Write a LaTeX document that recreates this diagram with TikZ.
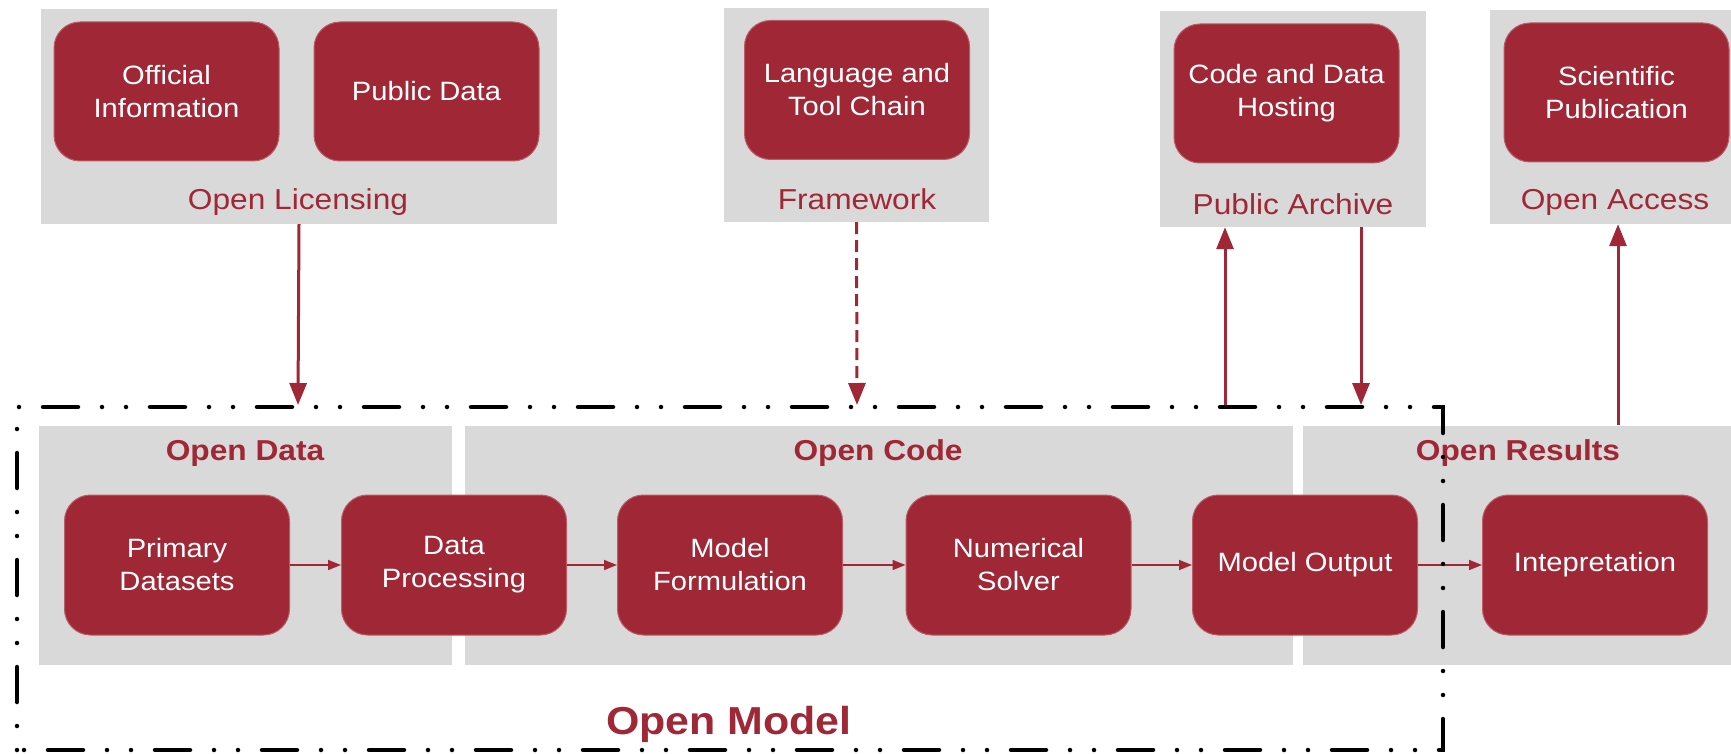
\documentclass[tikz,border=0pt]{standalone}
\usepackage{fontspec}
\setmainfont[FakeStretch=1.1]{Liberation Sans}
\usetikzlibrary{arrows.meta}
\definecolor{bred}{RGB}{160,39,53}
\definecolor{pgrey}{RGB}{217,217,217}
\tikzset{
  greybox/.style={fill=pgrey, draw=none, inner sep=0pt},
  rednode/.style={fill=bred, draw=bred!75!white, line width=1pt, rounded corners=26pt,
    minimum width=225pt, minimum height=139pt, inner sep=0pt, align=center,
    text=white, font=\fontsize{26.5}{33}\selectfont},
  lab/.style={text=bred, font=\fontsize{28.8}{36}\selectfont, inner sep=0pt},
  blab/.style={text=bred, font=\fontsize{28.8}{36}\selectfont\bfseries, inner sep=0pt},
  bigarr/.style={draw=bred, line width=3pt, -{Triangle[width=17pt,length=22pt]}},
  smallarr/.style={draw=bred, line width=1.5pt, -{Triangle[width=10pt,length=13pt]}},
  border/.style={draw=black, line width=4.5pt, line cap=round,
    dash pattern=on 0pt off 24pt on 0pt off 24pt on 35pt off 24pt}
}
\begin{document}
\begin{tikzpicture}[x=1pt, y=-1pt]
\useasboundingbox (0,0) rectangle (1731,754);

% top row: grey panels
\node[greybox, minimum width=516pt, minimum height=215pt] (licbox) at (299,116.5) {};
\node[greybox, minimum width=265pt, minimum height=214pt] (frbox) at (856.5,115) {};
\node[greybox, minimum width=266pt, minimum height=216pt] (arbox) at (1293,119) {};
\node[greybox, minimum width=243pt, minimum height=214pt] (acbox) at (1611.5,117) {};

% top row: items
\node[rednode] (off) at (166.5,91.5) {Official\\Information};
\node[rednode] (pub) at (426.5,91.5) {Public Data};
\node[rednode] (lang) at (857,90) {Language and\\Tool Chain};
\node[rednode] (host) at (1286.5,93.5) {Code and Data\\Hosting};
\node[rednode] (sci) at (1616.5,92.5) {Scientific\\Publication};

\node[lab] (lic) at (298,202) {Open Licensing};
\node[lab] (fw) at (857,199) {Framework};
\node[lab] (pa) at (1293,204) {Public Archive};
\node[lab] (oa) at (1615,202) {Open Access};

% bottom row: grey panels
\node[greybox, minimum width=413pt, minimum height=239pt] (odbox) at (245.5,545.5) {};
\node[greybox, minimum width=828pt, minimum height=239pt] (ocbox) at (879,545.5) {};
\node[greybox, minimum width=428pt, minimum height=239pt] (orbox) at (1517,545.5) {};

\node[blab] (od) at (245,453) {Open Data};
\node[blab] (oc) at (878,453) {Open Code};
\node[blab] (ores) at (1518,453) {Open Results};

% processing chain
\node[rednode, minimum height=140pt] (prim) at (177,565) {Primary\\Datasets};
\node[rednode, minimum height=140pt] (proc) at (454,565) {Data\\Processing};
\node[rednode, minimum height=140pt] (form) at (730,565) {Model\\Formulation};
\node[rednode, minimum height=140pt] (solv) at (1018.5,565) {Numerical\\Solver};
\node[rednode, minimum height=140pt] (outp) at (1305,565) {Model Output};
\node[rednode, minimum height=140pt] (intp) at (1595,565) {Intepretation};

\draw[smallarr] (prim) -- (proc);
\draw[smallarr] (proc) -- (form);
\draw[smallarr] (form) -- (solv);
\draw[smallarr] (solv) -- (outp);
\draw[smallarr] (outp) -- (intp);

% connections to the model boundary
\coordinate (licin) at (298,405);
\coordinate (fwin) at (857,405);
\coordinate (arout) at (1225,407);
\coordinate (arin) at (1361,405);
\coordinate (oaout) at (1618,425);

\draw[bigarr] (licbox.south) -- (licin);
\draw[bigarr, dash pattern=on 12pt off 6pt] (frbox.south) -- (fwin);
\draw[bigarr] (arout) -- (arout |- arbox.south);
\draw[bigarr] (arin |- arbox.south) -- (arin);
\draw[bigarr] (oaout) -- (oaout |- acbox.south);

% model boundary
\draw[border] (17,750) -- (17,407) -- (1443,407) -- (1443,750) -- cycle;
\node[text=bred, font=\fontsize{39}{48}\selectfont\bfseries, inner sep=0pt] (om) at (729,724) {Open Model};
\end{tikzpicture}
\end{document}
